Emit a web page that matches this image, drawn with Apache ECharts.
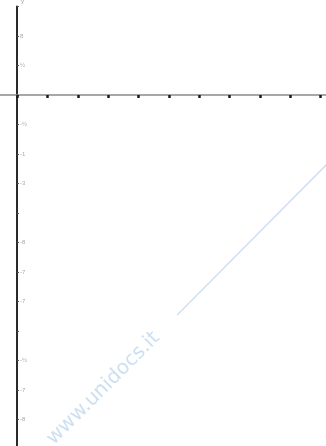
<!DOCTYPE html>
<html>
<head>
<meta charset="utf-8">
<script src="https://cdn.jsdelivr.net/npm/echarts@6/dist/echarts.min.js"></script>
<style>
  html, body { margin: 0; padding: 0; background: #fff; }
  #chart { width: 326px; height: 446px; }
</style>
</head>
<body>
<div id="chart"></div>
<script>
// assi vuoti (scansione): range e tacche
const xRange = [-1, 11];
const yRange = [-12, 3];
const yTickLabels = { "2": "8", "1": "½", "-1": "-½", "-2": "-1", "-3": "-3", "-5": "-8", "-6": "-7", "-7": "-7", "-9": "-½", "-10": "-7", "-11": "-8" };

// linea azzurra tenue del watermark
const guideX = [5.27, 10.3];
const guideY = [-7.46, -2.25];

let chart = echarts.init(document.getElementById("chart"));
let option = {
  animation: false,
  grid: {
    left: -13,
    right: -25,
    top: 6.5,
    height: 442.5,
    containLabel: false,
    outerBoundsMode: "none"
  },
  xAxis: {
    type: "value",
    min: xRange[0],
    max: xRange[1],
    interval: 1,
    splitLine: { show: false },
    axisLine: { onZero: true, lineStyle: { color: "#8a8a8a", width: 1.5 } },
    axisTick: { show: true, length: 3, lineStyle: { color: "#1a1a1a", width: 2.5 } },
    axisLabel: { show: false }
  },
  yAxis: {
    type: "value",
    min: yRange[0],
    max: yRange[1],
    interval: 1,
    offset: -30,
    name: "y",
    nameGap: 2,
    nameTextStyle: { color: "#999", fontSize: 6, align: "left", padding: [0, 0, 0, 4] },
    splitLine: { show: false },
    axisLine: { onZero: false, lineStyle: { color: "#2a2a2a", width: 2 } },
    axisTick: { show: true, inside: true, length: 2, lineStyle: { color: "#555", width: 1 } },
    axisLabel: {
      show: true,
      inside: true,
      margin: 3,
      fontSize: 6,
      color: "#aaa",
      formatter: function (v) {
        return yTickLabels[String(v)] || "";
      }
    }
  },
  series: [
    {
      type: "line",
      data: [[guideX[0], guideY[0]], [guideX[1], guideY[1]]],
      symbol: "none",
      silent: true,
      lineStyle: { color: "#cfe0f1", width: 1.5 }
    }
  ],
  graphic: [
    {
      type: "text",
      left: 43,
      top: 328,
      rotation: Math.PI / 4,
      originX: 60,
      originY: 60,
      style: {
        text: "www.unidocs.it",
        fill: "#cde0f2",
        font: "20px 'DejaVu Sans', sans-serif"
      }
    }
  ]
};
chart.setOption(option);
</script>
</body>
</html>
